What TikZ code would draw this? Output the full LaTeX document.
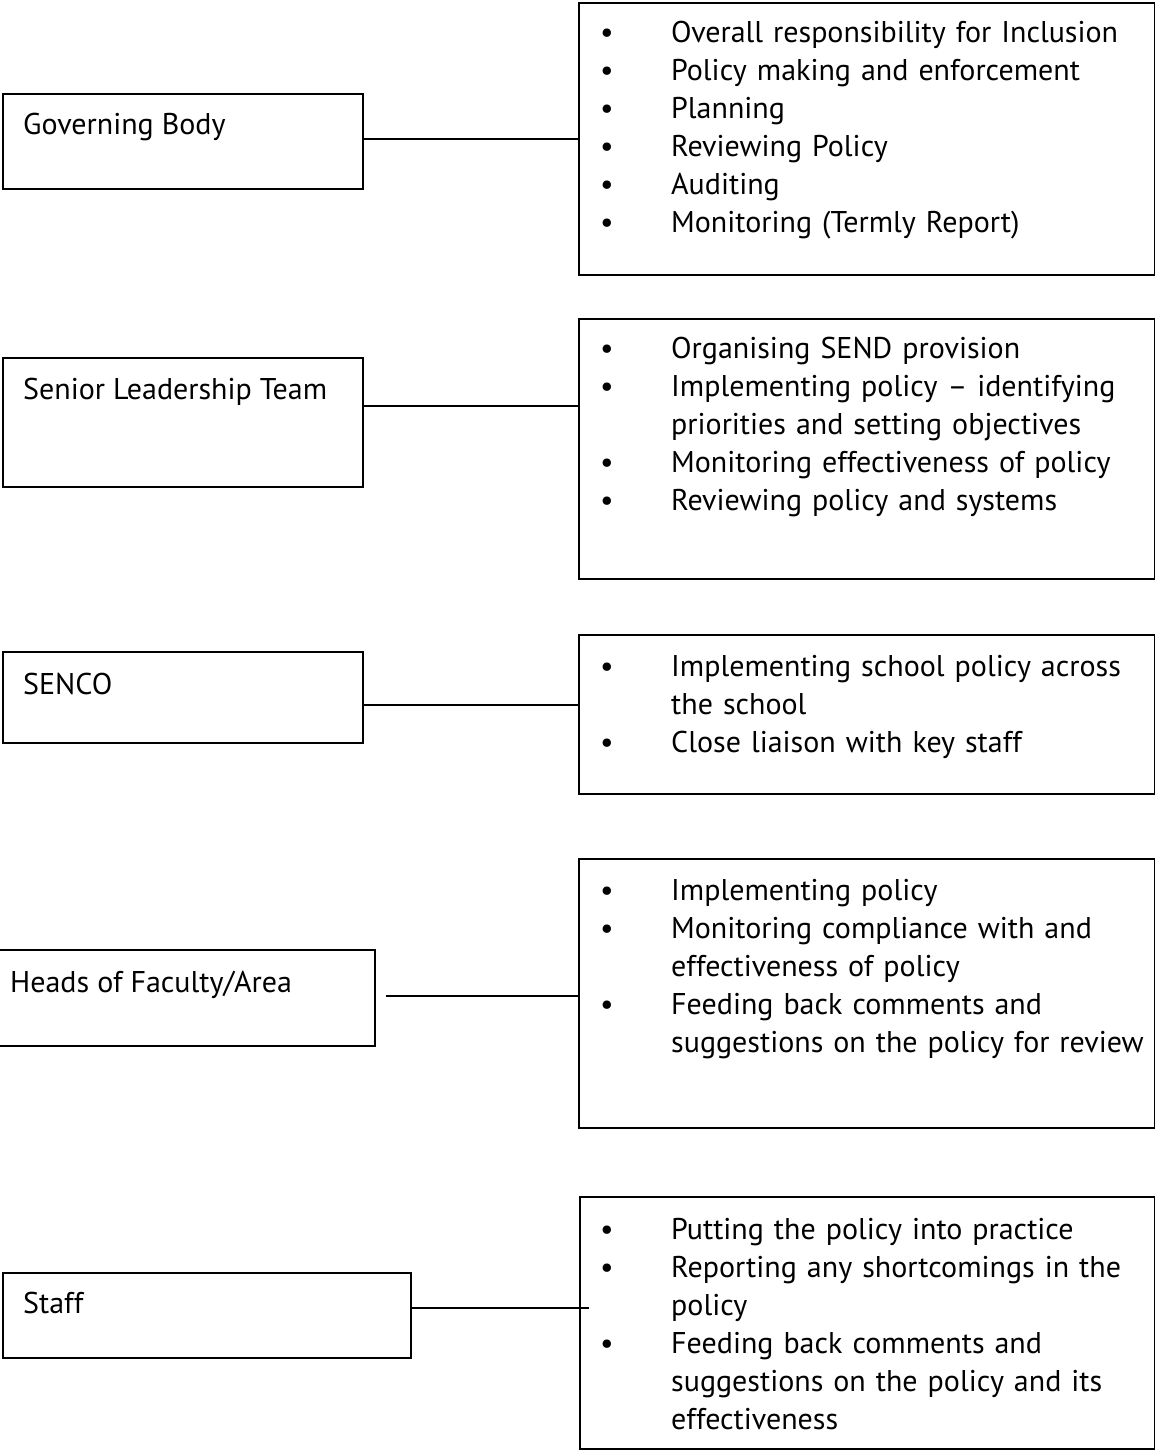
\documentclass[tikz,border=0pt]{standalone}
\usepackage{fontspec}
\setmainfont{PT Sans}
\usepackage{tikz}
\usetikzlibrary{positioning}

% puce et retrait des listes
\newcommand{\bul}{\makebox[71pt][l]{\textbullet}}
\newcommand{\cnt}{\hspace*{71pt}}

\tikzset{
  box/.style={draw, line width=1.6pt, anchor=north west, inner sep=0pt},
  lab/.style={anchor=base west, inner sep=0pt, font=\fontsize{30}{38}\selectfont},
  items/.style={anchor=base west, inner sep=0pt, align=left, text width=620pt,
    font=\fontsize{30}{38}\selectfont},
  link/.style={line width=1.6pt}
}

\begin{document}
\begin{tikzpicture}[x=1pt, y=-1pt]
  \useasboundingbox (0,0) rectangle (1155,1450);
  % cases de gauche
  \node[box, minimum width=360, minimum height=95] (gov) at (2,93) {};
  \node[box, minimum width=360, minimum height=129] (slt) at (2,357) {};
  \node[box, minimum width=360, minimum height=91] (senco) at (2,651) {};
  \node[box, minimum width=376, minimum height=96] (heads) at (-2,949) {};
  \node[box, minimum width=408, minimum height=85] (staff) at (2,1272) {};
  \node[lab] (gov-t) at ([shift={(21,42)}]gov.north west) {Governing Body};
  \node[lab] (slt-t) at ([shift={(21,42)}]slt.north west) {Senior Leadership Team};
  \node[lab] (senco-t) at ([shift={(21,43)}]senco.north west) {SENCO};
  \node[lab] (heads-t) at ([shift={(12,43)}]heads.north west) {Heads of Faculty/Area};
  \node[lab] (staff-t) at ([shift={(21,41)}]staff.north west) {Staff};
  % cases de droite
  \node[box, minimum width=576, minimum height=272] (gov-r) at (578,2) {};
  \node[box, minimum width=576, minimum height=260] (slt-r) at (578,318) {};
  \node[box, minimum width=576, minimum height=159] (senco-r) at (578,634) {};
  \node[box, minimum width=576, minimum height=269] (heads-r) at (578,858) {};
  \node[box, minimum width=575, minimum height=252] (staff-r) at (579,1196) {};
  \node[items] (gov-l) at ([shift={(22,41)}]gov-r.north west)
    {\bul Overall responsibility for Inclusion\\
     \bul Policy making and enforcement\\
     \bul Planning\\
     \bul Reviewing Policy\\
     \bul Auditing\\
     \bul Monitoring (Termly Report)};
  \node[items] (slt-l) at ([shift={(22,40)}]slt-r.north west)
    {\bul Organising SEND provision\\
     \bul Implementing policy – identifying\\
     \cnt priorities and setting objectives\\
     \bul Monitoring effectiveness of policy\\
     \bul Reviewing policy and systems};
  \node[items] (senco-l) at ([shift={(22,42)}]senco-r.north west)
    {\bul Implementing school policy across\\
     \cnt the school\\
     \bul Close liaison with key staff};
  \node[items] (heads-l) at ([shift={(22,42)}]heads-r.north west)
    {\bul Implementing policy\\
     \bul Monitoring compliance with and\\
     \cnt effectiveness of policy\\
     \bul Feeding back comments and\\
     \cnt suggestions on the policy for review};
  \node[items] (staff-l) at ([shift={(21,43)}]staff-r.north west)
    {\bul Putting the policy into practice\\
     \bul Reporting any shortcomings in the\\
     \cnt policy\\
     \bul Feeding back comments and\\
     \cnt suggestions on the policy and its\\
     \cnt effectiveness};
  % liaisons
  \coordinate (c1) at (0,139);
  \coordinate (c2) at (0,406);
  \coordinate (c3) at (0,705);
  \coordinate (c4) at (386,996);
  \coordinate (c5) at (589,1308);
  \draw[link] (gov.east |- c1) -- (gov-r.west |- c1);
  \draw[link] (slt.east |- c2) -- (slt-r.west |- c2);
  \draw[link] (senco.east |- c3) -- (senco-r.west |- c3);
  \draw[link] (c4) -- (heads-r.west |- c4);
  \draw[link] (staff.east |- c5) -- (c5);
\end{tikzpicture}
\end{document}
